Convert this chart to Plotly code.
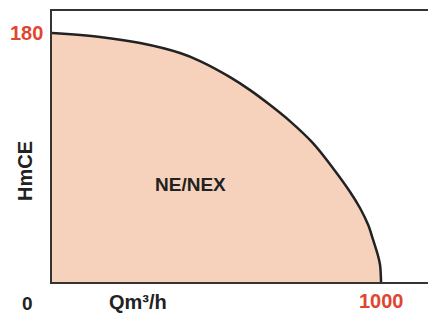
import plotly.graph_objects as go

# Performance envelope (Q in m3/h, H in m)
flow = [0, 146, 268, 389, 450, 541, 602, 663, 723, 793, 854, 906, 936, 961, 976, 991, 997, 1000]
head = [180, 177.1, 172.7, 165.5, 159.7, 148.1, 138.7, 127.9, 116.3, 100.4, 82.3, 65.1, 53.5, 41.2, 30.4, 18.8, 12.3, 0]

area_label = "NE/NEX"
x_label = "Qm³/h"
y_label = "HmCE"
x_max_label = "1000"
y_max_label = "180"
origin_label = "0"

RED = "#E0452F"
DARK = "#222222"
FONT = "Liberation Sans"

# page body has an 8px margin; compensate so the plot sits where the reference has it
W, H = 428, 305
ML, MR, MT, MB = 44, 0, 3, 31
PX0, PY0 = 8 + ML, 8 + MT
PW, PH = W - ML - MR, H - MT - MB

fig = go.Figure()
fig.add_trace(go.Scatter(
    x=flow, y=head, mode="lines",
    line=dict(color=DARK, width=2.5, shape="spline", smoothing=1.0),
    fill="tozeroy", fillcolor="#F6D2BD", hoverinfo="skip", showlegend=False,
))

fig.update_layout(
    width=W, height=H,
    margin=dict(l=ML, r=MR, t=MT, b=MB),
    paper_bgcolor="white", plot_bgcolor="white",
    xaxis=dict(range=[0, 1167], showgrid=False, zeroline=False, showticklabels=False,
               ticks="", showline=True, linecolor="#333333", linewidth=1.5, mirror=True),
    yaxis=dict(range=[0, 195.9], showgrid=False, zeroline=False, showticklabels=False,
               ticks="", showline=True, linecolor="#333333", linewidth=1.5),
)

def ann(text, px, py, color, size, xanchor="center", angle=0):
    fig.add_annotation(text=f"<b>{text}</b>", x=(px - PX0) / PW, y=1 - (py - PY0) / PH,
                       xref="paper", yref="paper",
                       showarrow=False, xanchor=xanchor, yanchor="middle", textangle=angle,
                       font=dict(family=FONT, size=size, color=color))

ann(y_max_label, 45, 33, RED, 20, xanchor="right")
ann(x_max_label, 381, 301, RED, 20)
ann(origin_label, 27, 303, DARK, 19)
ann(x_label, 137.5, 302, DARK, 20)
ann(y_label, 24.5, 171.5, DARK, 20, angle=-90)
ann(area_label, 190, 184.5, DARK, 19)

fig.write_html("out.html")
